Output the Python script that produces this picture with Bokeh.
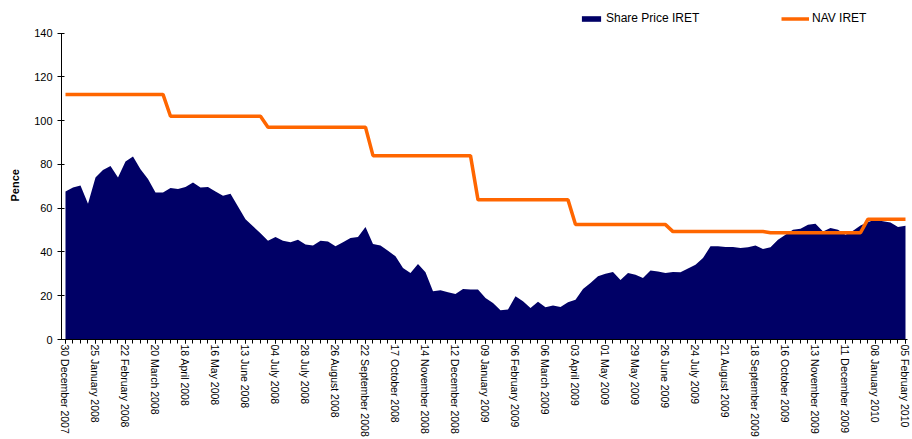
import math
from bokeh.plotting import figure
from bokeh.models import Range1d, FixedTicker, Legend, LegendItem, ColumnDataSource
from bokeh.embed import file_html
from bokeh.resources import INLINE

tick_labels = [
    "30 December 2007", "25 January 2008", "22 February 2008", "20 March 2008",
    "18 April 2008", "16 May 2008", "13 June 2008", "04 July 2008", "28 July 2008",
    "26 August 2008", "22 September 2008", "17 October 2008", "14 November 2008",
    "12 December 2008", "09 January 2009", "06 February 2009", "06 March 2009",
    "03 April 2009", "01 May 2009", "29 May 2009", "26 June 2009", "24 July 2009",
    "21 August 2009", "18 September 2009", "16 October 2009", "13 November 2009",
    "11 December 2009", "08 January 2010", "05 February 2010",
]

share_price = [
    67.6, 69.5, 70.4, 62.0, 74.0, 77.5, 79.3, 74.0, 81.3, 83.6,
    77.8, 73.3, 67.2, 67.2, 69.2, 68.8, 69.7, 71.7, 69.5, 69.7,
    67.6, 65.7, 66.6, 60.8, 55.0, 51.7, 48.6, 45.1, 46.8, 45.1,
    44.4, 45.6, 43.4, 43.0, 45.1, 44.8, 42.6, 44.4, 46.4, 46.8,
    51.4, 43.6, 42.9, 40.6, 38.0, 32.7, 30.4, 34.5, 30.7, 22.0,
    22.5, 21.6, 20.8, 23.1, 22.8, 22.8, 19.0, 16.7, 13.4, 13.7,
    19.8, 17.5, 14.4, 17.2, 14.7, 15.5, 14.9, 17.0, 18.2, 23.1,
    25.8, 28.9, 30.0, 30.9, 27.2, 30.4, 29.6, 28.1, 31.5, 31.1,
    30.4, 30.9, 30.7, 32.4, 34.2, 37.2, 42.6, 42.6, 42.3, 42.3,
    41.8, 42.1, 43.0, 41.3, 42.1, 45.6, 47.9, 50.2, 50.6, 52.4,
    52.9, 49.4, 50.9, 50.2, 47.9, 49.7, 52.1, 53.7, 54.7, 54.0,
    53.5, 51.4, 52.0,
]

nav = [
    112, 112, 112, 112, 112, 112, 112, 112, 112, 112, 112, 112, 112, 112,
    102, 102, 102, 102, 102, 102, 102, 102, 102, 102, 102, 102, 102,
    97, 97, 97, 97, 97, 97, 97, 97, 97, 97, 97, 97, 97, 97,
    84, 84, 84, 84, 84, 84, 84, 84, 84, 84, 84, 84, 84, 84,
    63.8, 63.8, 63.8, 63.8, 63.8, 63.8, 63.8, 63.8, 63.8, 63.8, 63.8, 63.8, 63.8,
    52.5, 52.5, 52.5, 52.5, 52.5, 52.5, 52.5, 52.5, 52.5, 52.5, 52.5, 52.5, 52.5,
    49.3, 49.3, 49.3, 49.3, 49.3, 49.3, 49.3, 49.3, 49.3, 49.3, 49.3, 49.3, 49.3,
    48.8, 48.8, 48.8, 48.8, 48.8, 48.8, 48.8, 48.8, 48.8, 48.8, 48.8, 48.8, 48.8,
    55, 55, 55, 55, 55, 55,
]

y_ticks = [0, 20, 40, 60, 80, 100, 120, 140]

x = list(range(len(share_price)))
src = ColumnDataSource(dict(x=x, share=share_price, nav=nav))

FONT = "Liberation Sans"

# frame spans the full height above the x axis; the y axis itself is bounded to 0..140
p = figure(width=912, height=439, output_backend="svg", toolbar_location=None,
           x_range=Range1d(-0.533, 112.267), y_range=Range1d(0, 154.9),
           min_border_left=61, min_border_right=5, min_border_top=0,
           min_border_bottom=99)
p.outline_line_color = None
p.xgrid.visible = False
p.ygrid.visible = False
p.background_fill_color = "white"
p.border_fill_color = "white"

area = p.varea(x="x", y1=0, y2="share", source=src, fill_color="#000066")
line = p.line(x="x", y="nav", source=src, line_color="#FF6600", line_width=3.5)

xa = p.xaxis[0]
xa.ticker = FixedTicker(ticks=list(range(0, len(x), 4)), minor_ticks=x)
xa.major_label_overrides = {i * 4: lab for i, lab in enumerate(tick_labels)}
xa.major_label_orientation = -math.pi / 2
xa.major_label_text_font = FONT
xa.major_label_text_font_size = "10.5px"
xa.major_label_text_color = "black"
xa.major_label_standoff = 1
xa.major_tick_in = 0
xa.major_tick_out = 4
xa.minor_tick_in = 0
xa.minor_tick_out = 4
xa.minor_tick_line_color = "black"
xa.major_tick_line_color = "black"
xa.axis_line_color = "black"

ya = p.yaxis[0]
ya.bounds = (0, 140)
ya.ticker = FixedTicker(ticks=y_ticks, minor_ticks=[])
ya.major_label_text_font = FONT
ya.major_label_text_font_size = "11px"
ya.major_label_text_color = "black"
ya.major_label_standoff = 5
ya.major_tick_in = 3
ya.major_tick_out = 4
ya.minor_tick_line_color = None
ya.axis_line_color = "black"
ya.major_tick_line_color = "black"
# trailing no-break spaces centre the visible word on the 0..140 span, not the full frame
ya.axis_label = "Pence" + "\u00a0" * 10
ya.axis_label_text_font = FONT
ya.axis_label_text_font_size = "11px"
ya.axis_label_text_font_style = "bold"
ya.axis_label_text_color = "black"
ya.axis_label_standoff = 10

def make_legend(label, renderer, loc, gw):
    return Legend(items=[LegendItem(label=label, renderers=[renderer])],
                  location=loc, orientation="horizontal",
                  padding=0, margin=0, spacing=0,
                  glyph_width=gw, glyph_height=7, label_height=14,
                  label_standoff=3,
                  label_text_font=FONT, label_text_font_size="12px",
                  label_text_color="black",
                  border_line_color=None, background_fill_alpha=0)

p.add_layout(make_legend("Share Price IRET", area, (518, 314), 24))
p.add_layout(make_legend("NAV IRET", line, (720, 314), 28))

open("out.html", "w").write(file_html(p, INLINE))
